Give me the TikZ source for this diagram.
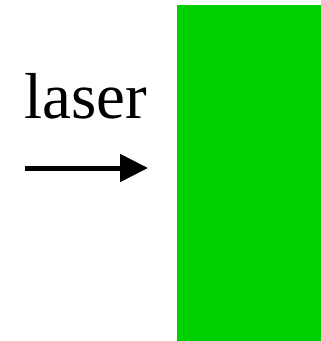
\documentclass[tikz,border=0pt]{standalone}
\usepackage{fontspec}
\setmainfont{Liberation Serif}
\usepackage{tikz}
\usetikzlibrary{arrows.meta,positioning}
\definecolor{plategreen}{HTML}{00D000}

\begin{document}
\begin{tikzpicture}[x=1pt,y=-1pt,>={Triangle[length=28pt,width=27pt]},
  plate/.style={fill=plategreen,draw=none,minimum width=144pt,minimum height=336pt,inner sep=0pt}]
  \useasboundingbox (0,0) rectangle (321,341);
  \node[plate,anchor=north west] (target) at (177,5) {};
  \node[anchor=base west,inner sep=0pt,font=\fontsize{65}{72}\selectfont] (label) at (24,118) {laser};
  \coordinate (beamstart) at (25,168);
  \coordinate (beamend) at (148,168);
  \draw[->,line width=5pt] (beamstart)--(beamend);
\end{tikzpicture}
\end{document}
